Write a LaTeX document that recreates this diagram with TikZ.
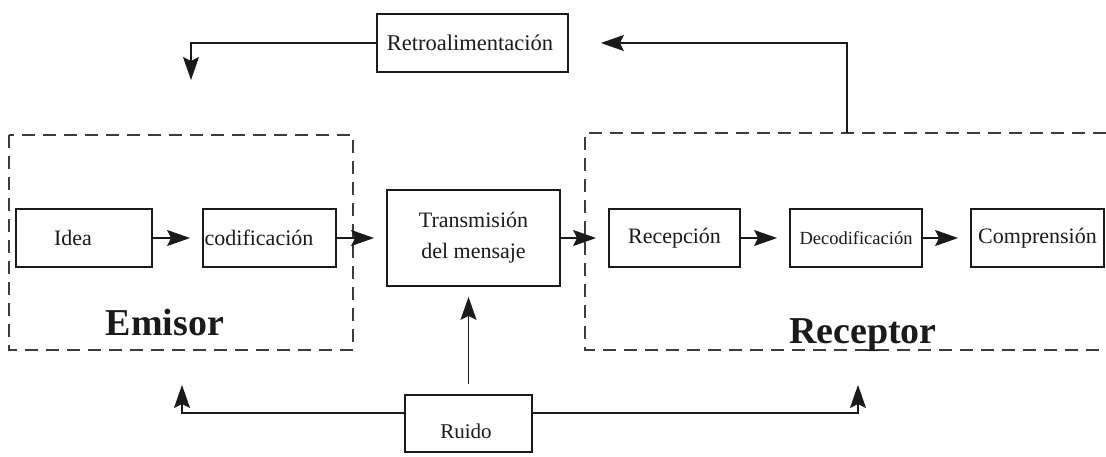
\documentclass[tikz,border=0pt]{standalone}
\usepackage{fontspec}
\setmainfont{Liberation Serif}
\usetikzlibrary{arrows.meta}
\definecolor{ink}{HTML}{1A1A1A}
\begin{document}
\begin{tikzpicture}[x=1pt,y=-1pt,
  box/.style={draw=ink, line width=1.8pt, inner sep=0pt, fill=white, minimum height=58pt,
              font=\fontsize{22}{31}\selectfont, text=ink},
  txt/.style={inner sep=0pt, font=\fontsize{22}{26}\selectfont, text=ink},
  big/.style={inner sep=0pt, anchor=base, font=\bfseries\fontsize{38}{44}\selectfont, text=ink},
  frame/.style={draw=ink!85, line width=1.3pt, dash pattern=on 13pt off 8pt},
  arr/.style={draw=ink, line width=1.6pt, -{Stealth[length=23pt,width=16pt,inset=4pt]}},
  flow/.style={arr, shorten >=12pt}]
\useasboundingbox (0,0) rectangle (1106,456);

% dashed frames of sender and receiver
\draw[frame] (9,135) rectangle (353,350);
\draw[frame] (1106,133) -- (585,133) -- (585,350) -- (1106,350);
\node[big] (emisor) at (165,335) {Emisor};
\node[big] (receptor) at (863,343) {Receptor};

% process boxes
\node[box, minimum width=191pt] (retro) at (472.5,43) {};
\node[txt, font=\fontsize{22.5}{26}\selectfont] (retrot) at (470,43) {Retroalimentación};
\node[box, minimum width=136pt] (idea) at (84,238) {};
\node[txt] (ideat) at (73,238) {Idea};
\node[box, minimum width=133pt] (codif) at (269.5,238) {};
\node[txt] (codift) at (259,238) {codificación};
\node[box, minimum width=173pt, minimum height=96pt, align=center] (transm) at (473.5,238) {Transmisión\\del mensaje};
\node[box, minimum width=131pt] (recep) at (674.5,238) {Recepción};
\node[box, minimum width=132pt, font=\fontsize{18.5}{22}\selectfont] (decod) at (856,238) {Decodificación};
\node[box, minimum width=133pt] (compr) at (1037.5,238) {Comprensión};
\node[box, minimum width=127pt, minimum height=57pt] (ruido) at (468.5,423.5) {};
\node[txt, font=\fontsize{21}{25}\selectfont] (ruidot) at (466,431) {Ruido};

% main flow
\draw[flow] (idea) -- (codif);
\draw[flow] (codif) -- (transm);
\draw[flow] (transm) -- (recep);
\draw[flow] (recep) -- (decod);
\draw[flow] (decod) -- (compr);

% feedback loop
\coordinate (rtop) at (847,133);
\coordinate (fbtip) at (191,80);
\draw[arr, shorten >=32pt] (rtop) |- (retro.east);
\draw[arr] (retro.west) -| (fbtip);

% noise
\coordinate (nl) at (182,413);
\coordinate (nlt) at (182,385);
\coordinate (nr) at (858,413);
\coordinate (nrt) at (858,385);
\draw[arr] (ruido.west |- nl) -- (nl) -- (nlt);
\draw[arr] (ruido.east |- nr) -- (nr) -- (nrt);
\draw[arr, shorten <=10pt, shorten >=10pt] (ruido.north) -- (ruido.north |- transm.south);
\end{tikzpicture}
\end{document}
